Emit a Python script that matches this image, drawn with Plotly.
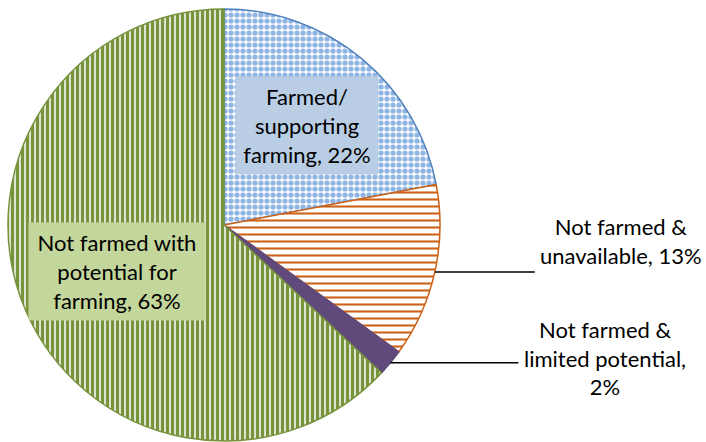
import math
import plotly.graph_objects as go

# ---- data ----
categories = ["Farmed/ supporting farming", "Not farmed & unavailable",
              "Not farmed & limited potential", "Not farmed with potential for farming"]
values = [22, 13, 2, 63]
label_texts = ["Farmed/<br>supporting<br>farming, {}%",
               "Not farmed &<br>unavailable, {}%",
               "Not farmed &<br>limited potential,<br>{}%",
               "Not farmed with<br>potential for<br>farming, {}%"]

# ---- style ----
W, H = 706, 442
CX, CY, R = 224, 225, 216          # pie centre / radius in pixels
fill_colors = ["#8EB4E3", "#CC6218", "#604A7B", "#77933C"]
line_colors = ["#4F81BD", "#CC6218", "#604A7B", "#77933C"]
pat_shapes = [".", "-", "", "|"]
pat_fg = ["#8EB4E3", "#CC6218", "#604A7B", "#77933C"]
pat_bg = ["white", "white", "#604A7B", "white"]
pat_size = [6, 7, 4, 5]
pat_solid = [0.6, 0.3, 1.0, 0.7]
FONT = "Lato"
FS = 22

fig = go.Figure(go.Pie(
    labels=categories, values=values, sort=False, direction="clockwise",
    rotation=0, textinfo="none", hoverinfo="label+percent", showlegend=False,
    marker=dict(colors=fill_colors,
                line=dict(color=line_colors, width=1.5),
                pattern=dict(shape=pat_shapes, fgcolor=pat_fg, bgcolor=pat_bg,
                             size=pat_size, solidity=pat_solid, fillmode="replace")),
    domain=dict(x=[(CX - R) / W, (CX + R) / W], y=[1 - (CY + R) / H, 1 - (CY - R) / H]),
))

total = sum(values)
mids = []
acc = 0
for v in values:
    mids.append((acc + v / 2) / total * 360)
    acc += v


def pix(angle, frac):
    a = math.radians(angle)
    return CX + math.sin(a) * frac * R, CY - math.cos(a) * frac * R


def paper(x, y):
    return x / W, 1 - y / H


annotations = []
shapes = []
# inside labels with boxes (slices 0 and 3)
inside = {0: dict(frac=0.6, bg="#B9CDE5", w=134, h=89),
          3: dict(frac=0.54, bg="#C3D69B", w=168, h=89)}
for i, st in inside.items():
    px, py = pix(mids[i], st["frac"])
    x, y = paper(px, py)
    annotations.append(dict(x=x, y=y, xref="paper", yref="paper", showarrow=False,
                            xanchor="center", yanchor="middle",
                            text=label_texts[i].format(values[i]), align="center",
                            bgcolor=st["bg"], width=st["w"], height=st["h"], borderpad=4,
                            font=dict(family=FONT, size=FS, color="black")))

# outside labels with leader lines (slices 1 and 2)
outside = {1: dict(line_len=100, dx=186, dy=-31),
           2: dict(line_len=128, dx=215, dy=-5)}
for i, st in outside.items():
    ex, ey = pix(mids[i], 1.0)
    x0, y0 = paper(ex, ey)
    x1, _ = paper(ex + st["line_len"], ey)
    shapes.append(dict(type="line", xref="paper", yref="paper", x0=x0, y0=y0, x1=x1, y1=y0,
                       line=dict(color="black", width=1.5)))
    tx, ty = paper(ex + st["dx"], ey + st["dy"])
    annotations.append(dict(x=tx, y=ty, xref="paper", yref="paper", showarrow=False,
                            text=label_texts[i].format(values[i]), align="center",
                            xanchor="center", yanchor="middle",
                            font=dict(family=FONT, size=FS, color="black")))

fig.update_layout(width=W, height=H, margin=dict(l=0, r=0, t=0, b=0),
                  paper_bgcolor="white", plot_bgcolor="white",
                  annotations=annotations, shapes=shapes)
fig.write_html("out.html", config={"displayModeBar": False},
               post_script="document.body.style.margin='0';document.body.style.overflow='hidden';")
